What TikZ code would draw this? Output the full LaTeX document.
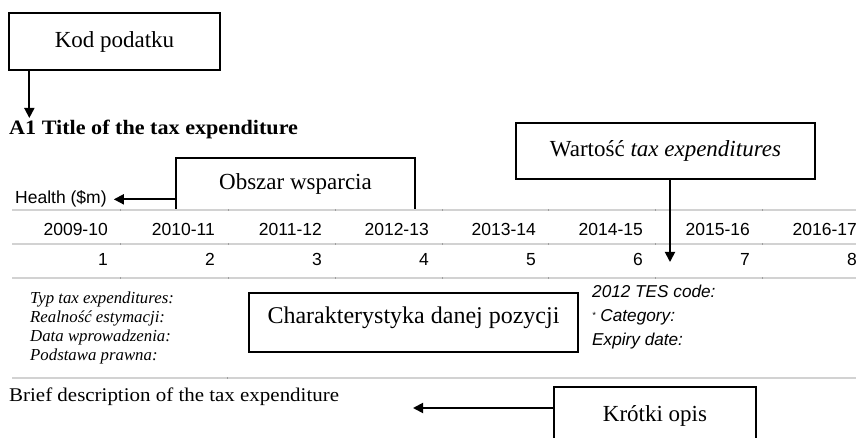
\documentclass[tikz,border=0pt]{standalone}
\usepackage{fontspec}
\setmainfont{Liberation Serif}
\newfontfamily\arialf{Liberation Sans}
\newfontfamily\palf{Liberation Serif}[FakeStretch=1.08]
\usetikzlibrary{arrows.meta}
\begin{document}
\begin{tikzpicture}[x=1pt,y=-1pt,
  boxnode/.style={draw, line width=1.3pt, inner sep=0pt, font=\fontsize{23}{27}\selectfont},
  arr/.style={line width=1.8pt, -{Triangle[length=10pt,width=10pt]}},
  grayline/.style={draw=gray!35, line width=1.4pt},
  tickmark/.style={draw=gray!75, line width=1pt},
  tabtext/.style={inner sep=0pt, font=\arialf\fontsize{17.5}{20}\selectfont},
  ltext/.style={inner sep=0pt, anchor=base west, font=\itshape\fontsize{16.8}{19}\selectfont},
  rtext/.style={inner sep=0pt, anchor=base west, font=\arialf\itshape\fontsize{17.2}{20}\selectfont}
]
\useasboundingbox (0,0) rectangle (863,438);

% boxes
\node[boxnode, minimum width=211pt, minimum height=57pt] (kod) at (114.5,41.5) {Kod podatku};
\node[boxnode, minimum width=239pt, minimum height=52pt] (obszar) at (295.5,184) {Obszar wsparcia};
\node[boxnode, minimum width=299pt, minimum height=56pt] (wart) at (665.5,151) {Wartość \textit{tax expenditures}};
\node[boxnode, minimum width=329pt, minimum height=59pt, text height=15pt, text depth=13pt,
      font=\fontsize{24}{28}\selectfont] (char) at (413.5,322.5) {Charakterystyka danej pozycji};
\node[boxnode, minimum width=202pt, minimum height=58pt] (krotki) at (655,416) {Krótki opis};

% headings
\node[inner sep=0pt, anchor=base west, font=\palf\bfseries\fontsize{20.5}{24}\selectfont] (title) at (9,135) {A1 Title of the tax expenditure};
\node[inner sep=0pt, anchor=base west, font=\palf\fontsize{19.4}{24}\selectfont] (brief) at (9,402) {Brief description of the tax expenditure};
\node[tabtext, anchor=base west] (health) at (15,204) {Health (\$m)};

% table lines
\draw[grayline] (12,210) -- (856,210);
\draw[grayline] (12,244) -- (856,244);
\draw[grayline] (12,278) -- (856,278);
\draw[grayline] (12,378) -- (856,378);
\foreach \x in {120,228,335,442,548,655,762}{
  \foreach \yy in {210,244,278}{
    \draw[tickmark] (\x,\yy-0.8) -- (\x,\yy+0.8);
  }
}
\draw[tickmark] (227,377.2) -- (227,378.8);

% table rows
\foreach \yr/\r [count=\i] in {2009-10/108,2010-11/215,2011-12/322,2012-13/429,2013-14/536,2014-15/643,2015-16/750,2016-17/857}{
  \node[tabtext, anchor=base east] (yr\i) at (\r,236) {\yr};
  \node[tabtext, anchor=base east] (num\i) at (\r,266) {\i};
}

% left list
\node[ltext] (l1) at (30,304) {Typ tax expenditures:};
\node[ltext] (l2) at (30,323) {Realność estymacji:};
\node[ltext] (l3) at (30,342) {Data wprowadzenia:};
\node[ltext] (l4) at (30,361) {Podstawa prawna:};

% right list
\node[rtext] (r1) at (592,298) {2012 TES code:};
\node[rtext] (r2) at (592,322) {\raisebox{3pt}{\fontsize{9}{9}\selectfont *} Category:};
\node[rtext] (r3) at (592,346) {Expiry date:};

% connectors
\coordinate (kodfoot) at ([xshift=21pt]kod.south west);
\draw[arr] (kodfoot) -- (kodfoot |- 0,118);
\draw[arr] (obszar.west |- health.center) -- ([xshift=7pt]health.east);
\coordinate (wartfoot) at ([xshift=4.5pt]wart.south);
\draw[arr] (wartfoot) -- (wartfoot |- 0,262);
\draw[arr] ([yshift=8pt]krotki.west) -- ([yshift=8pt]krotki.west -| 413,0);
\end{tikzpicture}
\end{document}
